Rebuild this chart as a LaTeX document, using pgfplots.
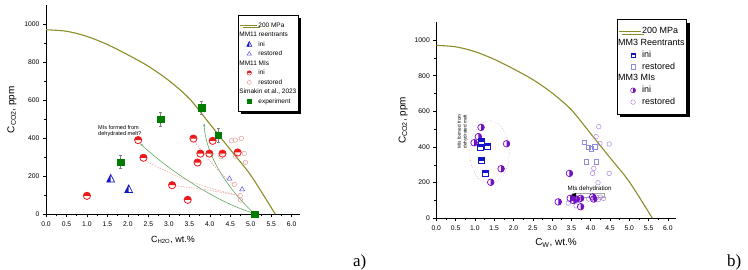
\documentclass[border=0pt]{standalone}
\usepackage{fontspec}
\setmainfont{Liberation Sans}
\newfontfamily\timesfont{Liberation Serif}
\usepackage{pgfplots}
\pgfplotsset{compat=1.18}
\usetikzlibrary{shadows,arrows.meta}

\definecolor{olivec}{RGB}{140,140,40}
\definecolor{redc}{RGB}{235,25,25}
\definecolor{pinkc}{RGB}{235,155,155}
\definecolor{bluec}{RGB}{20,20,200}
\definecolor{lbluec}{RGB}{90,90,220}
\definecolor{greenc}{RGB}{0,125,0}
\definecolor{garrow}{RGB}{95,170,95}
\definecolor{purplec}{RGB}{115,15,195}
\definecolor{lpurplec}{RGB}{175,135,220}
\definecolor{lavc}{RGB}{140,140,220}

\makeatletter
\pgfdeclareplotmark{tophalfcirc}{%
 \pgfpathmoveto{\pgfqpoint{\pgfplotmarksize}{0pt}}%
 \pgfpatharc{0}{180}{\pgfplotmarksize}%
 \pgfpathclose\pgfusepathqfill
 \pgfpathcircle{\pgfpointorigin}{\pgfplotmarksize}\pgfusepathqstroke}
\pgfdeclareplotmark{righthalfcirc}{%
 \pgfpathmoveto{\pgfqpoint{0pt}{-\pgfplotmarksize}}%
 \pgfpatharc{-90}{90}{\pgfplotmarksize}%
 \pgfpathclose\pgfusepathqfill
 \pgfpathcircle{\pgfpointorigin}{\pgfplotmarksize}\pgfusepathqstroke}
\pgfdeclareplotmark{tophalfsq}{%
 \pgfpathrectangle{\pgfqpoint{-\pgfplotmarksize}{0pt}}{\pgfqpoint{2\pgfplotmarksize}{\pgfplotmarksize}}\pgfusepathqfill
 \pgfpathrectangle{\pgfqpoint{-\pgfplotmarksize}{-\pgfplotmarksize}}{\pgfqpoint{2\pgfplotmarksize}{2\pgfplotmarksize}}\pgfusepathqstroke}
\pgfdeclareplotmark{lefthalftri}{%
 \pgfpathmoveto{\pgfqpoint{0pt}{\pgfplotmarksize}}%
 \pgfpathlineto{\pgfqpoint{-0.85\pgfplotmarksize}{-0.65\pgfplotmarksize}}%
 \pgfpathlineto{\pgfqpoint{0pt}{-0.65\pgfplotmarksize}}\pgfpathclose\pgfusepathqfill
 \pgfpathmoveto{\pgfqpoint{0pt}{\pgfplotmarksize}}%
 \pgfpathlineto{\pgfqpoint{-0.85\pgfplotmarksize}{-0.65\pgfplotmarksize}}%
 \pgfpathlineto{\pgfqpoint{0.85\pgfplotmarksize}{-0.65\pgfplotmarksize}}\pgfpathclose\pgfusepathqstroke}
\makeatother

\pgfplotsset{
 base/.style={
  scale only axis, clip=false,
  axis x line=bottom, axis y line=left,
  axis line style={-, line width=0.6bp},
  xmin=0, xmax=6.2, ymin=0, ymax=1100,
  xtick={0,0.5,1,1.5,2,2.5,3,3.5,4,4.5,5,5.5,6},
  ytick={0,200,400,600,800,1000},
  minor x tick num=1, minor y tick num=1,
  tick align=outside, major tick length=3bp, minor tick length=2bp,
  tick style={black, line width=0.5bp},
  /pgf/number format/assume math mode=true,
  xticklabel style={/tikz/yshift=-1bp, /pgf/number format/.cd, fixed, fixed zerofill, precision=1},
  yticklabel style={/pgf/number format/1000 sep={}},
  tick label style={font=\fontsize{6.8}{8}\selectfont},
  legend cell align=left,
 },
 linelegL/.style={legend image code/.code={\draw[##1] (0bp,0bp)--(17bp,0bp);}},
 marklegL/.style={legend image code/.code={\draw[mark repeat=2,mark phase=2,##1] plot coordinates {(0bp,0bp)(9bp,0bp)(17bp,0bp)};}},
 linelegR/.style={legend image code/.code={\draw[##1] (0bp,0bp)--(22bp,0bp);}},
 marklegR/.style={legend image code/.code={\draw[mark repeat=2,mark phase=2,##1] plot coordinates {(0bp,0bp)(14bp,0bp)(22bp,0bp)};}},
}

\begin{document}
\begin{tikzpicture}
\useasboundingbox (0bp,0bp) rectangle (748bp,270bp);

% ---------------- panel a ----------------
\begin{axis}[base,
  at={(46bp,55.7bp)}, anchor=south west,
  width=253.9bp, height=209.3bp,
  xlabel={C\textsubscript{H2O}, wt.\%},
  ylabel={C\textsubscript{CO2}, ppm},
  xlabel style={at={(axis description cs:0.5,-0.124)}, anchor=center, font=\fontsize{9}{10}\selectfont},
  ylabel style={at={(axis description cs:-0.134,0.5)}, anchor=center, font=\fontsize{10}{11}\selectfont},
  legend style={at={(axis description cs:0.756,0.952)}, anchor=north west,
    draw=black, line width=0.6bp, fill=white,
    font=\fontsize{6.5}{7.5}\selectfont,
    inner xsep=1.5bp, inner ysep=6.5bp, row sep=2.3bp,
    nodes={inner sep=0.6bp, text height=4.7bp, text depth=1.3bp},
    drop shadow={shadow xshift=2.5bp, shadow yshift=-2.5bp, fill=black, opacity=1}},
]
\addplot[olivec, line width=1.1bp, smooth, forget plot] coordinates {
 (0,970)(0.5,962)(1.0,935)(1.5,892)(2.0,838)(2.5,778)(3.0,703)(3.5,608)(4.0,475)(4.5,340)(5.0,205)(5.6,0)};

\draw[garrow, line width=0.6bp, -{Stealth[length=3bp,width=2bp]}] (axis cs:5.08,5) .. controls (axis cs:4.2,60) and (axis cs:3.0,230) .. (axis cs:2.3,372);
\draw[garrow, line width=0.6bp, -{Stealth[length=3bp,width=2bp]}] (axis cs:5.08,5) .. controls (axis cs:4.5,120) and (axis cs:3.9,300) .. (axis cs:3.86,478);
\draw[pinkc, line width=0.5bp, dash pattern=on 1.5bp off 1.2bp] (axis cs:2.42,283) .. controls (axis cs:3.2,190) and (axis cs:4.0,130) .. (axis cs:4.72,100);
\draw[pinkc, line width=0.5bp, dash pattern=on 1.5bp off 1.2bp] (axis cs:3.15,150) .. controls (axis cs:3.8,135) and (axis cs:4.3,115) .. (axis cs:4.72,98);
\draw[pinkc, line width=0.5bp, dash pattern=on 1.5bp off 1.2bp] (axis cs:3.63,383) .. controls (axis cs:3.9,300) and (axis cs:4.3,200) .. (axis cs:4.58,160);

\node[font=\fontsize{5.6}{6.6}\selectfont, align=left, anchor=west, inner sep=0pt] at (axis cs:1.27,437) {MIs formed from\\dehydrated melt?};

\addplot[only marks, mark=o, mark size=2.3bp, color=pinkc, mark options={line width=0.5bp}, forget plot] coordinates {
 (4.53,387)(4.62,390)(4.77,399)(4.84,320)(4.63,306)(4.87,273)(4.60,157)(4.74,98)(4.75,75)(4.27,303)};
\addplot[only marks, mark=triangle, mark size=2.8bp, color=lbluec, mark options={line width=0.5bp}, forget plot] coordinates {
 (4.48,187)(4.79,131)};
\addplot[only marks, mark=tophalfcirc, mark size=3.6bp, mark options={draw=redc, fill=redc, line width=0.8bp}, forget plot] coordinates {
 (1.0,97)(2.25,390)(2.38,297)(3.08,153)(3.46,76)(3.60,398)(3.70,272)(3.77,319)(3.99,319)(4.07,386)(4.31,319)(4.68,325)};
\addplot[only marks, mark=lefthalftri, mark size=4.6bp, mark options={draw=bluec, fill=bluec, line width=0.7bp}, forget plot] coordinates {
 (1.58,185)(2.02,130)};
\addplot[only marks, mark=square*, mark size=3.2bp, color=greenc, forget plot,
  error bars/.cd, y dir=both, y explicit,
  error bar style={gray, line width=0.5bp},
  error mark options={gray, rotate=90, mark size=1.8bp, line width=0.5bp}] coordinates {
 (1.82,275) +- (0,35)
 (2.80,500) +- (0,35)
 (3.80,560) +- (0,35)
 (4.21,416) +- (0,35)
 (5.10,0) +- (0,0)};

\addlegendimage{olivec, line width=1.1bp, linelegL}
\addlegendentry{200 MPa}
\addlegendimage{empty legend}
\addlegendentry{\hspace{-19bp}MM11 reentrants}
\addlegendimage{only marks, mark=lefthalftri, mark size=3bp, mark options={draw=bluec, fill=bluec, line width=0.5bp}, marklegL}
\addlegendentry{ini}
\addlegendimage{only marks, mark=triangle, mark size=2.5bp, mark options={draw=lbluec, line width=0.5bp}, marklegL}
\addlegendentry{restored}
\addlegendimage{empty legend}
\addlegendentry{\hspace{-19bp}MM11 MIs}
\addlegendimage{only marks, mark=tophalfcirc, mark size=2.2bp, mark options={draw=redc, fill=redc, line width=0.5bp}, marklegL}
\addlegendentry{ini}
\addlegendimage{only marks, mark=o, mark size=2bp, mark options={draw=pinkc, line width=0.5bp}, marklegL}
\addlegendentry{restored}
\addlegendimage{empty legend}
\addlegendentry{\hspace{-19bp}Simakin et al., 2023}
\addlegendimage{only marks, mark=square*, mark size=2bp, mark options={draw=greenc, fill=greenc}, marklegL}
\addlegendentry{experiment}
\end{axis}

% ---------------- panel b ----------------
\begin{axis}[base,
  at={(436.3bp,51.7bp)}, anchor=south west,
  width=239.3bp, height=196.1bp,
  xlabel={C\textsubscript{W}, wt.\%},
  ylabel={C\textsubscript{CO2}, ppm},
  xlabel style={at={(axis description cs:0.5,-0.127)}, anchor=center, font=\fontsize{10}{11}\selectfont},
  ylabel style={at={(axis description cs:-0.138,0.5)}, anchor=center, font=\fontsize{10}{11}\selectfont},
  legend style={at={(axis description cs:0.754,1.015)}, anchor=north west,
    draw=black, line width=0.6bp, fill=white,
    font=\fontsize{9}{10}\selectfont,
    inner xsep=1.5bp, inner ysep=7bp, row sep=2.2bp,
    nodes={inner sep=0.6bp, text height=6.5bp, text depth=1.9bp},
    drop shadow={shadow xshift=3bp, shadow yshift=-3bp, fill=black, opacity=1}},
]
\addplot[olivec, line width=1.1bp, smooth, forget plot] coordinates {
 (0,970)(0.5,962)(1.0,935)(1.5,892)(2.0,838)(2.5,778)(3.0,703)(3.5,608)(4.0,475)(4.5,340)(5.0,205)(5.6,0)};

\draw[lpurplec, line width=0.5bp, dotted] (axis cs:1.38,370) ellipse [x radius=0.51, y radius=178];
\node[rotate=90, font=\fontsize{4.7}{5.6}\selectfont, align=center, inner sep=0pt] at (axis cs:0.68,487) {MIs formed from\\dehydrated melt};
\node[font=\fontsize{6.2}{7}\selectfont, inner sep=0pt] at (axis cs:3.97,167) {MIs dehydration};
\draw[gray!70, line width=0.4bp] (axis cs:3.52,118) rectangle (axis cs:4.36,140);
\fill[black] (axis cs:3.47,129) -- (axis cs:3.62,142) -- (axis cs:3.62,116) -- cycle;

\addplot[only marks, mark=o, mark size=2.3bp, color=lpurplec, mark options={line width=0.5bp}, forget plot] coordinates {
 (4.21,514)(4.14,458)(4.24,420)(4.48,417)(4.08,280)(4.05,252)(4.48,252)(4.19,200)
 (3.42,85)(3.62,70)(3.70,100)(3.95,108)(4.15,118)(4.25,118)(4.33,112)(4.20,105)};
\addplot[only marks, mark=square, mark size=2.2bp, color=lavc, mark options={line width=0.5bp}, forget plot] coordinates {
 (3.83,426)(3.94,398)(4.01,390)(4.11,402)(3.88,318)(4.15,318)};
\addplot[only marks, mark=righthalfcirc, mark size=3.3bp, mark options={draw=purplec, fill=purplec, line width=0.7bp}, forget plot] coordinates {
 (1.16,510)(1.09,458)(0.98,424)(1.82,418)(1.68,278)(1.41,202)(3.45,252)
 (3.16,92)(3.47,112)(3.55,100)(3.63,108)(3.74,112)(3.74,65)(4.05,120)(4.08,108)};
\addplot[only marks, mark=tophalfsq, mark size=3bp, mark options={draw=bluec, fill=bluec, line width=0.7bp}, forget plot] coordinates {
 (1.16,430)(1.13,398)(1.32,405)(1.18,323)(1.27,252)};

\addlegendimage{olivec, line width=1.1bp, linelegR}
\addlegendentry{200 MPa}
\addlegendimage{empty legend}
\addlegendentry{\hspace{-24bp}MM3 Reentrants}
\addlegendimage{only marks, mark=tophalfsq, mark size=2.2bp, mark options={draw=bluec, fill=bluec, line width=0.5bp}, marklegR}
\addlegendentry{ini}
\addlegendimage{only marks, mark=square, mark size=2.2bp, mark options={draw=lavc, line width=0.5bp}, marklegR}
\addlegendentry{restored}
\addlegendimage{empty legend}
\addlegendentry{\hspace{-24bp}MM3 MIs}
\addlegendimage{only marks, mark=righthalfcirc, mark size=2.5bp, mark options={draw=purplec, fill=purplec, line width=0.5bp}, marklegR}
\addlegendentry{ini}
\addlegendimage{only marks, mark=o, mark size=2.3bp, mark options={draw=lpurplec, line width=0.5bp}, marklegR}
\addlegendentry{restored}
\end{axis}

\node[font=\timesfont\fontsize{17}{20}\selectfont, anchor=base west, inner sep=0pt] at (353bp,4bp) {a)};
\node[font=\timesfont\fontsize{17}{20}\selectfont, anchor=base west, inner sep=0pt] at (727bp,4bp) {b)};
\end{tikzpicture}
\end{document}
